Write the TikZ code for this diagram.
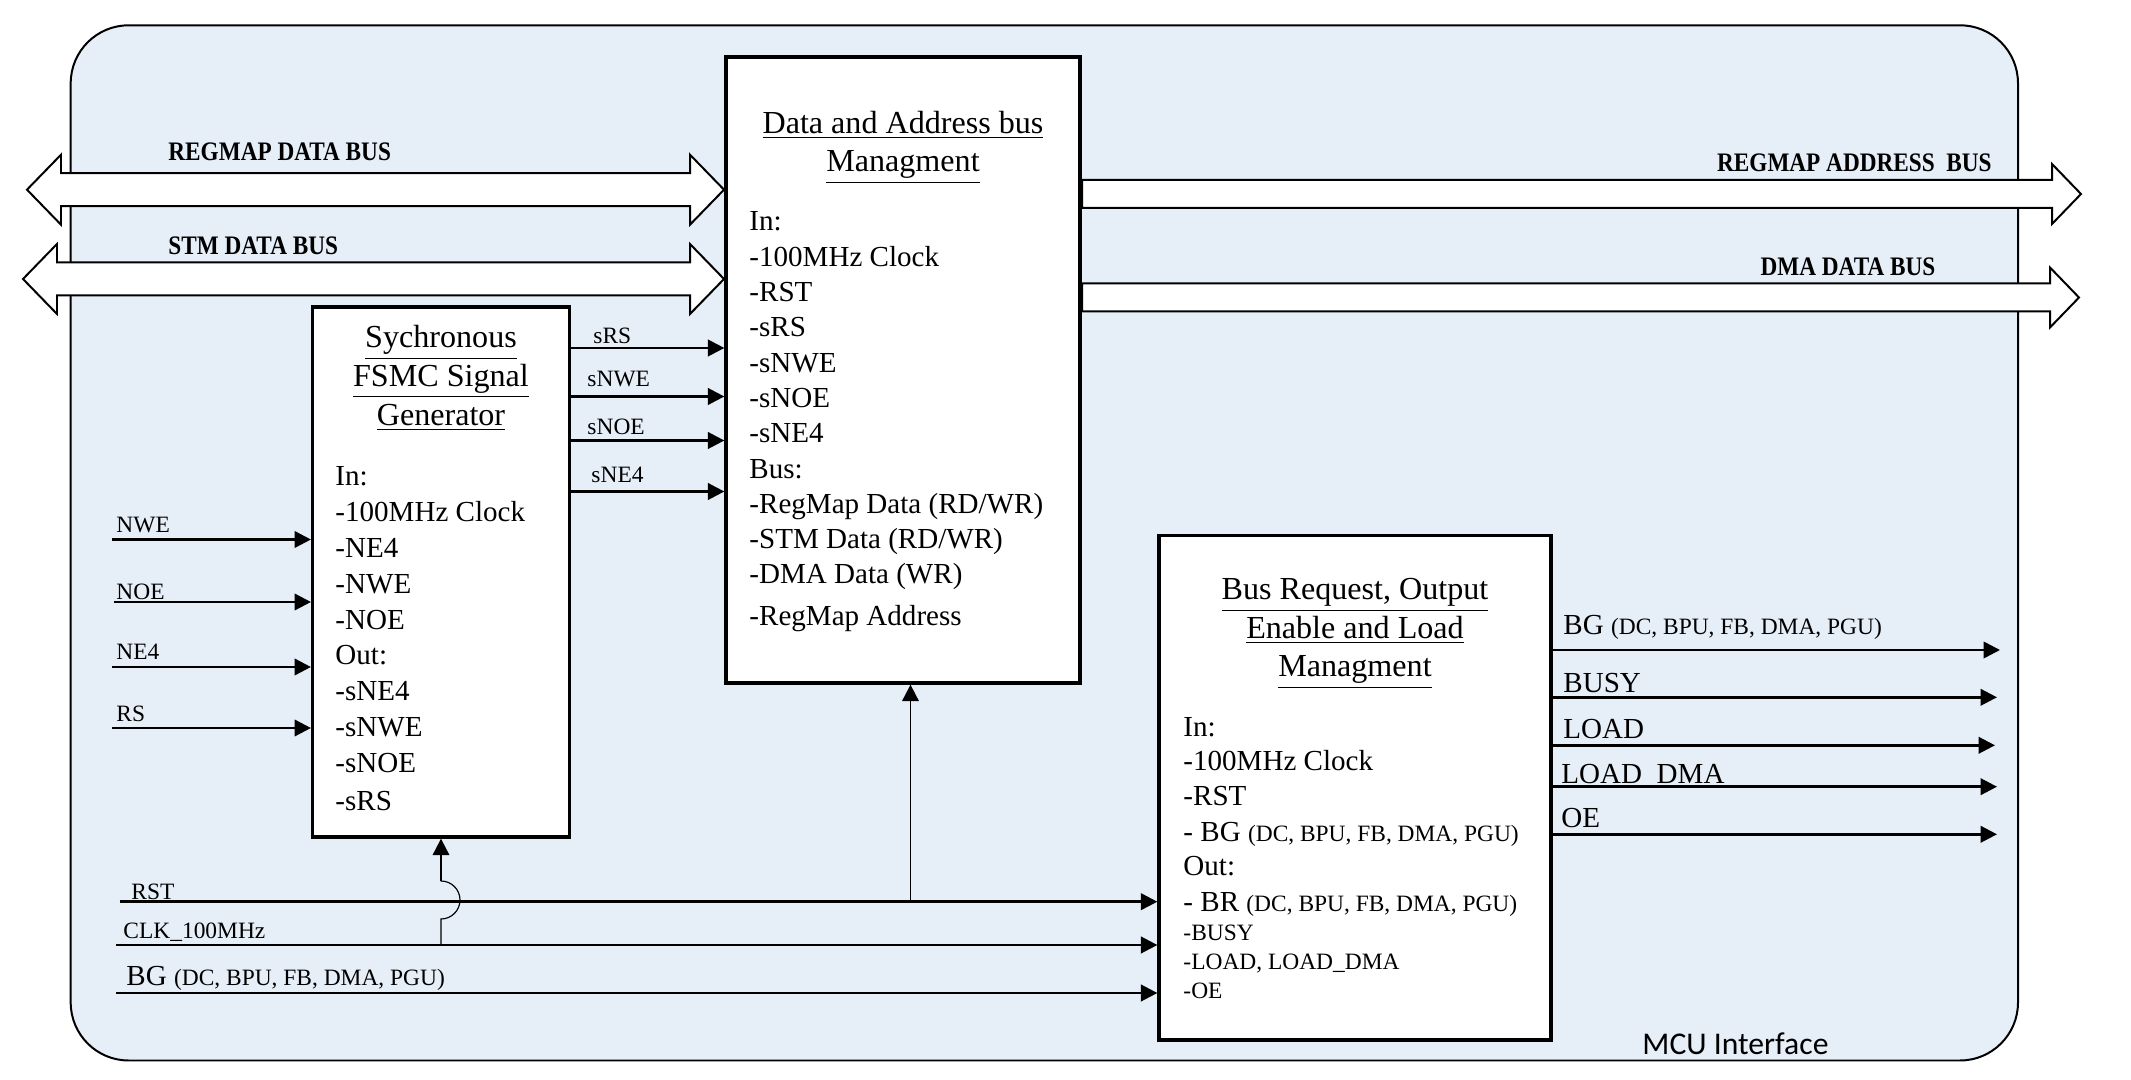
\documentclass[tikz,border=0pt]{standalone}
\usepackage{fontspec}
\setmainfont{Liberation Serif}
\newfontfamily\busfont[FakeStretch=0.87]{Liberation Serif}
\newfontfamily\mcufont{Carlito}
\usetikzlibrary{arrows.meta, fit}

\definecolor{mcublue}{RGB}{230,238,248}
\newcommand{\smtxt}{\fontsize{10}{12}\selectfont}
% hollow bus arrows: left x, right x, centre y
\newcommand{\dbus}[3]{\draw[bus] (#1,#3) -- ++(34,-35) -- ++(0,18.5) -- (#2-34,#3-16.5) -- ++(0,-18.5) -- (#2,#3) -- ++(-34,35) -- ++(0,-18.5) -- (#1+34,#3+16.5) -- ++(0,18.5) -- cycle;}
\newcommand{\sbus}[3]{\draw[bus] (#1,#3-14) -- (#2-29,#3-14) -- (#2-29,#3-30) -- (#2,#3) -- (#2-29,#3+30) -- (#2-29,#3+14) -- (#1,#3+14) -- cycle;}

\begin{document}
\begin{tikzpicture}[x=0.015cm, y=-0.015cm,
    outer/.style={draw, line width=0.85pt, fill=mcublue, rounded corners=0.87cm, inner sep=0pt},
    blk/.style={draw, line width=1.4pt, fill=white, inner sep=0pt},
    bus/.style={draw, line width=0.85pt, fill=white},
    sig/.style={line width=1.1pt, -{Triangle[length=7pt,width=7pt]}},
    vin/.style={line width=0.8pt, -{Triangle[length=7pt,width=7pt]}},
    hopln/.style={line width=0.5pt},
    ttl/.style={font=\fontsize{13.7}{16}\selectfont, anchor=base, inner sep=0pt},
    bdy/.style={font=\fontsize{12.4}{15}\selectfont, anchor=base west, inner sep=0pt},
    sml/.style={font=\smtxt, anchor=base west, inner sep=0pt},
    buslbl/.style={font=\busfont\bfseries\fontsize{11.4}{13}\selectfont, inner sep=0pt}]
    \useasboundingbox (0,0) rectangle (2131,1080);

    % MCU frame
    \node[outer, fit={(70.7,25.3) (2018,1060.5)}] (mcu) {};
    \node[font=\mcufont\fontsize{13.5}{16}\selectfont, anchor=base west, inner sep=0pt] (mculbl) at (1642,1054) {MCU Interface};

    % blocks
    \node[blk, fit={(726,57) (1080,683)}] (dab) {};
    \node[blk, fit={(312.6,307) (569.4,837)}] (sfsg) {};
    \node[blk, fit={(1159,535.5) (1551,1040)}] (brol) {};

    % buses
    \dbus{27}{724}{189.7}
    \dbus{23}{724}{279}
    \sbus{1082}{2081}{194}
    \sbus{1082}{2079}{297.5}
    \node[buslbl, anchor=base west] (lrmd) at (168,161) {REGMAP DATA BUS};
    \node[buslbl, anchor=base west] (lstm) at (168,255) {STM DATA BUS};
    \node[buslbl, anchor=base east] (lrma) at (1992,172) {REGMAP ADDRESS\ \ BUS};
    \node[buslbl, anchor=base] (ldma) at (1848,276) {DMA DATA BUS};

    % Data and Address bus Managment
    \node[ttl] (dab-t1) at (903,134) {\underline{Data and Address bus}};
    \node[ttl] (dab-t2) at (903,172) {\underline{Managment}};
    \foreach \t [count=\i] in {In:, -100MHz Clock, -RST, -sRS, -sNWE, -sNOE, -sNE4, Bus:,
        -RegMap Data (RD/WR), -STM Data (RD/WR), -DMA Data (WR)}
        \node[bdy] (dab-\i) at (749,{231+(\i-1)*35.3}) {\t};
    \node[bdy] (dab-12) at (749,626) {-RegMap Address};

    % Sychronous FSMC Signal Generator
    \node[ttl] (sfsg-t1) at (441,348) {\underline{Sychronous}};
    \node[ttl] (sfsg-t2) at (441,386.5) {\underline{FSMC Signal}};
    \node[ttl] (sfsg-t3) at (441,426) {\underline{Generator}};
    \foreach \t [count=\i] in {In:, -100MHz Clock, -NE4, -NWE, -NOE, Out:, -sNE4, -sNWE, -sNOE}
        \node[bdy] (sfsg-\i) at (335,{486+(\i-1)*35.8}) {\t};
    \node[bdy] (sfsg-10) at (335,811) {-sRS};

    % Bus Request, Output Enable and Load Managment
    \node[ttl] (brol-t1) at (1355,600) {\underline{Bus Request, Output}};
    \node[ttl] (brol-t2) at (1355,639) {\underline{Enable and Load}};
    \node[ttl] (brol-t3) at (1355,677) {\underline{Managment}};
    \foreach \t [count=\i] in {In:, -100MHz Clock, -RST, {- BG {\smtxt (DC, BPU, FB, DMA, PGU)}},
        Out:, {- BR {\smtxt (DC, BPU, FB, DMA, PGU)}}}
        \node[bdy] (brol-\i) at (1183,{736+(\i-1)*35}) {\t};
    \foreach \t [count=\i] in {-BUSY, {-LOAD, LOAD\_DMA}, -OE}
        \node[sml] (brols-\i) at (1183,{940.4+(\i-1)*28.8}) {\t};

    % FSMC inputs
    \coordinate (inwe) at (112,539.5);
    \coordinate (inoe) at (114,602);
    \coordinate (ine4) at (112,667);
    \coordinate (irs)  at (112,728);
    \foreach \c in {inwe, inoe, ine4, irs}
        \draw[sig] (\c) -- (\c -| sfsg.west);
    \node[sml] (lnwe) at (116,533) {NWE};
    \node[sml] (lnoe) at (116,600) {NOE};
    \node[sml] (lne4) at (116,660) {NE4};
    \node[sml] (lrs)  at (116,722) {RS};

    % synchronised signals
    \coordinate (ysrs)  at (0,348);
    \coordinate (ysnwe) at (0,396.5);
    \coordinate (ysnoe) at (0,440.5);
    \coordinate (ysne4) at (0,491.5);
    \foreach \c in {ysrs, ysnwe, ysnoe, ysne4}
        \draw[sig] (sfsg.east |- \c) -- (dab.west |- \c);
    \node[sml] (lsrs)  at (593,343.5) {sRS};
    \node[sml] (lsnwe) at (587,386.5) {sNWE};
    \node[sml] (lsnoe) at (587,435) {sNOE};
    \node[sml] (lsne4) at (591,482.5) {sNE4};

    % RST, clock and bus grant
    \coordinate (irst) at (119.6,901.7);
    \coordinate (iclk) at (115.5,945);
    \coordinate (ibg)  at (116,993);
    \foreach \c in {irst, iclk, ibg}
        \draw[sig] (\c) -- (\c -| brol.west);
    \node[sml] (lrst) at (131,899) {RST};
    \node[sml] (lclk) at (123,938) {CLK\_100MHz};
    \node[bdy] (lbgin) at (126,985) {BG {\smtxt (DC, BPU, FB, DMA, PGU)}};

    \coordinate (rstj) at (910.5,901.7);
    \draw[vin] (rstj) -- (rstj |- dab.south);
    \coordinate (clkj) at (441,945);
    \coordinate (hop) at (441,881);
    \draw[hopln] (clkj) -- (441,919) arc[start angle=-90, end angle=90, radius=0.285cm];
    \draw[vin] (hop) -- (sfsg.south);

    % BROL outputs
    \coordinate (obg)   at (2000,650);
    \coordinate (obusy) at (1997,697.3);
    \coordinate (oload) at (1995,745.3);
    \coordinate (oldma) at (1997,786.7);
    \coordinate (ooe)   at (1997,834.3);
    \foreach \c in {obg, obusy, oload, oldma, ooe}
        \draw[sig] (brol.east |- \c) -- (\c);
    \node[bdy] (lbg)   at (1563,635) {BG {\smtxt (DC, BPU, FB, DMA, PGU)}};
    \node[bdy] (lbusy) at (1563,693) {BUSY};
    \node[bdy] (lload) at (1563,739) {LOAD};
    \node[bdy] (lldma) at (1561,783.5) {LOAD\_DMA};
    \node[bdy] (loe)   at (1561,828) {OE};
\end{tikzpicture}
\end{document}
